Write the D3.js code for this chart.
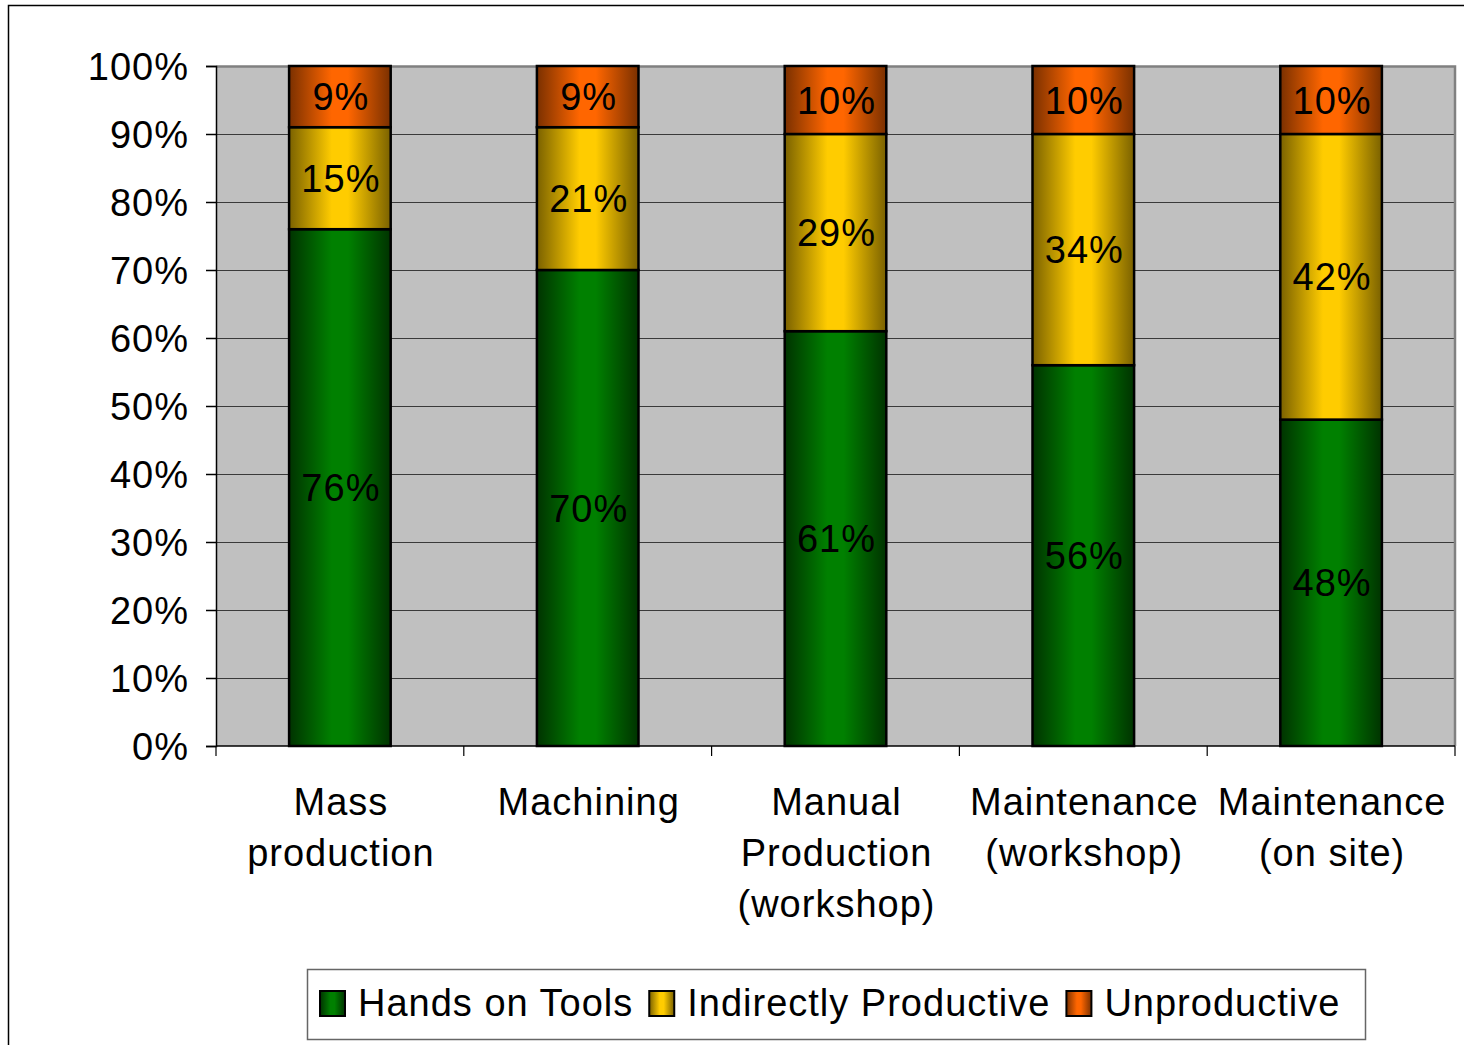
<!DOCTYPE html>
<html>
<head>
<meta charset="utf-8">
<script src="https://cdn.jsdelivr.net/npm/d3@7"></script>
<style>
  body { margin: 0; background: #fff; }
  text { font-family: "Liberation Sans", Arial, sans-serif; fill: #000; letter-spacing: 1px; }
</style>
</head>
<body>
<svg width="1464" height="1045"></svg>
<script>
// data
const categories = [
  ["Mass", "production"],
  ["Machining"],
  ["Manual", "Production", "(workshop)"],
  ["Maintenance", "(workshop)"],
  ["Maintenance", "(on site)"],
];
const seriesNames = ["Hands on Tools", "Indirectly Productive", "Unproductive"];
const handsOnTools = [76, 70, 61, 56, 48];
const indirectlyProductive = [15, 21, 29, 34, 42];
const unproductive = [9, 9, 10, 10, 10];
const yTicks = [0, 10, 20, 30, 40, 50, 60, 70, 80, 90, 100];

const seriesColors = [
  { dark: "#003300", bright: "#008000" },
  { dark: "#7a6100", bright: "#ffcc00" },
  { dark: "#7a3000", bright: "#ff6600" },
];

const svg = d3.select("svg");
const fontSize = 38;

// outer chart frame
svg.append("rect")
  .attr("x", 8.5).attr("y", 5.5)
  .attr("width", 1500).attr("height", 1100)
  .attr("fill", "none").attr("stroke", "#000").attr("stroke-width", 1.5);

const defs = svg.append("defs");
seriesColors.forEach((c, i) => {
  const g = defs.append("linearGradient")
    .attr("id", "grad" + i)
    .attr("x1", 0).attr("x2", 1).attr("y1", 0).attr("y2", 0);
  g.append("stop").attr("offset", "0%").attr("stop-color", c.dark);
  g.append("stop").attr("offset", "42%").attr("stop-color", c.bright);
  g.append("stop").attr("offset", "58%").attr("stop-color", c.bright);
  g.append("stop").attr("offset", "100%").attr("stop-color", c.dark);
});

const plot = { left: 216, right: 1455, top: 66, bottom: 746 };

const x = d3.scaleBand()
  .domain(d3.range(categories.length))
  .range([plot.left, plot.right])
  .paddingInner(0.59)
  .paddingOuter(0.295);

const y = d3.scaleLinear().domain([0, 100]).range([plot.bottom, plot.top]);

// plot background
svg.append("rect")
  .attr("x", plot.left).attr("y", plot.top)
  .attr("width", plot.right - plot.left).attr("height", plot.bottom - plot.top)
  .attr("fill", "#c0c0c0");

// gridlines
svg.append("g")
  .selectAll("line")
  .data(yTicks.filter(d => d > 0 && d < 100))
  .join("line")
  .attr("x1", plot.left).attr("x2", plot.right)
  .attr("y1", d => y(d) + 0.5).attr("y2", d => y(d) + 0.5)
  .attr("stroke", "#3a3a3a").attr("stroke-width", 1.2);

// plot border (top and right)
svg.append("path")
  .attr("d", `M${plot.left},${plot.top + 0.5}H${plot.right}V${plot.bottom}`)
  .attr("fill", "none").attr("stroke", "#808080").attr("stroke-width", 2.5);

// stacked data
const rows = categories.map((c, i) => ({
  i,
  v: [handsOnTools[i], indirectlyProductive[i], unproductive[i]],
}));
const stack = d3.stack()
  .keys([0, 1, 2])
  .value((d, k) => d.v[k]);
const stacked = stack(rows);

const layers = svg.append("g")
  .selectAll("g")
  .data(stacked)
  .join("g")
  .attr("fill", (d, k) => `url(#grad${k})`);

layers.selectAll("rect")
  .data(d => d)
  .join("rect")
  .attr("x", d => x(d.data.i))
  .attr("width", x.bandwidth())
  .attr("y", d => y(d[1]))
  .attr("height", d => y(d[0]) - y(d[1]))
  .attr("stroke", "#000")
  .attr("stroke-width", 2.5);

// data labels
layers.selectAll("text")
  .data((d, k) => d.map(p => ({ p, k })))
  .join("text")
  .attr("x", d => x(d.p.data.i) + x.bandwidth() / 2 + 1)
  .attr("y", d => (y(d.p[0]) + y(d.p[1])) / 2)
  .attr("dy", "0.36em")
  .attr("text-anchor", "middle")
  .attr("font-size", fontSize)
  .text(d => d.p.data.v[d.k] + "%");

// y axis
const yAxis = svg.append("g")
  .attr("transform", `translate(${plot.left},0)`)
  .call(d3.axisLeft(y).tickValues(yTicks).tickFormat(d => d + "%").tickSize(10).tickPadding(17));
yAxis.select(".domain").attr("stroke", "#000").attr("stroke-width", 1.5);
yAxis.selectAll(".tick line").attr("stroke", "#000").attr("stroke-width", 1.5);
yAxis.selectAll(".tick text")
  .attr("font-size", fontSize)
  .attr("font-family", "Liberation Sans, Arial, sans-serif")
  .attr("fill", "#000")
  .attr("dy", "0.36em");

// x axis line and boundary ticks
const boundaries = d3.range(categories.length + 1).map(i => plot.left + i * x.step());
const xAxis = svg.append("g");
xAxis.append("line")
  .attr("x1", plot.left).attr("x2", plot.right)
  .attr("y1", plot.bottom).attr("y2", plot.bottom)
  .attr("stroke", "#000").attr("stroke-width", 1.5);
xAxis.selectAll(".bt")
  .data(boundaries)
  .join("line")
  .attr("class", "bt")
  .attr("x1", d => d).attr("x2", d => d)
  .attr("y1", plot.bottom).attr("y2", plot.bottom + 10)
  .attr("stroke", "#000").attr("stroke-width", 1.2);

// category labels
xAxis.selectAll(".cat")
  .data(categories)
  .join("text")
  .attr("class", "cat")
  .attr("text-anchor", "middle")
  .attr("font-size", fontSize)
  .attr("x", (d, i) => x(i) + x.bandwidth() / 2 + 1)
  .attr("y", 815)
  .selectAll("tspan")
  .data(d => d)
  .join("tspan")
  .attr("x", function () { return this.parentNode.getAttribute("x"); })
  .attr("dy", (d, j) => (j === 0 ? 0 : 51))
  .text(d => d);

// legend
const legend = svg.append("g");
legend.append("rect")
  .attr("x", 307.5).attr("y", 969.5)
  .attr("width", 1058).attr("height", 70)
  .attr("fill", "#fff").attr("stroke", "#666").attr("stroke-width", 1.5);

let lx = 320;
seriesNames.forEach((name, k) => {
  legend.append("rect")
    .attr("x", lx).attr("y", 991)
    .attr("width", 25).attr("height", 25)
    .attr("fill", `url(#grad${k})`)
    .attr("stroke", "#000").attr("stroke-width", 2);
  const t = legend.append("text")
    .attr("x", lx + 38).attr("y", 1016)
    .attr("font-size", fontSize)
    .text(name);
  lx = lx + 38 + t.node().getComputedTextLength() + 16;
});
</script>
</body>
</html>
